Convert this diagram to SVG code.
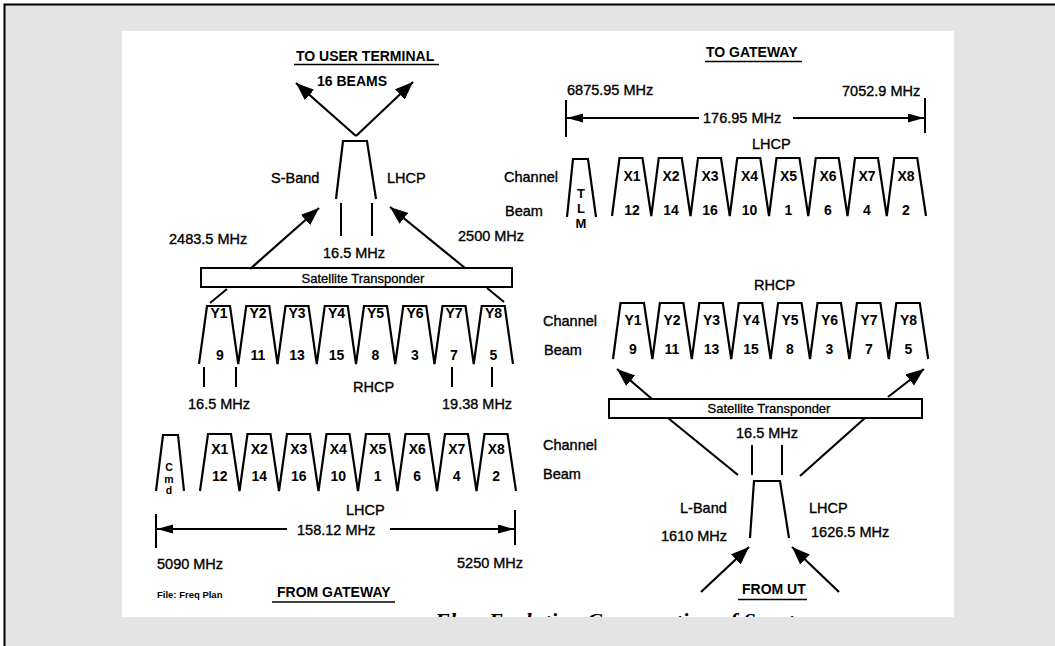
<svg xmlns="http://www.w3.org/2000/svg" width="1055" height="646" viewBox="0 0 1055 646">
<defs>
<style>
.ln{stroke:#000;stroke-width:2.2;fill:none;stroke-linejoin:miter}
.tk{stroke:#000;stroke-width:2;fill:none}
.t{font-family:"Liberation Sans",Arial,Helvetica,sans-serif;font-size:14.5px;fill:#000;stroke:#000;stroke-width:0.35}
.c{font-family:"Liberation Sans",Arial,Helvetica,sans-serif;font-size:14px;font-weight:bold;text-anchor:middle;fill:#000}
.h{font-family:"Liberation Sans",Arial,Helvetica,sans-serif;font-size:14px;font-weight:bold;fill:#000}
.box{fill:#fff;stroke:#000;stroke-width:2}
.tb{font-family:"Liberation Sans",Arial,Helvetica,sans-serif;font-size:13px;text-anchor:middle;fill:#000;stroke:#000;stroke-width:0.3}
.ul{stroke:#000;stroke-width:1.6}
</style>
<marker id="ah" markerUnits="userSpaceOnUse" markerWidth="20" markerHeight="16" refX="18" refY="7" orient="auto"><path d="M0,0 L18,7 L0,14 z" fill="#000"/></marker>
<marker id="dh" markerUnits="userSpaceOnUse" markerWidth="18" markerHeight="10" refX="16" refY="4.5" orient="auto"><path d="M0,0 L16,4.5 L0,9 z" fill="#000"/></marker>
<clipPath id="paper"><rect x="122" y="31" width="832" height="586"/></clipPath>
</defs>

<g id="background">
<rect x="0" y="0" width="1055" height="646" fill="#fff"/>
<rect x="5" y="5" width="1050" height="641" fill="#e4e4e4"/>
<path d="M4.5,646 V4.5 H1055" stroke="#000" stroke-width="2" fill="none"/>
<rect x="122" y="31" width="832" height="586" fill="#fff"/>
</g>

<g id="to-user-terminal">
<text class="h" x="296" y="61">TO USER TERMINAL</text>
<line class="ul" x1="294" y1="64.5" x2="439" y2="64.5"/>
<text class="h" x="317" y="86">16 BEAMS</text>
<path class="ln" d="M336,199 L343,141 L367,141 L376,199"/>
<text class="t" x="271" y="183">S-Band</text>
<text class="t" x="387" y="183">LHCP</text>
<text class="t" x="323" y="258">16.5 MHz</text>
<text class="t" x="169" y="244">2483.5 MHz</text>
<text class="t" x="458" y="241">2500 MHz</text>
</g>

<g id="transponder-left">
<rect class="box" x="201" y="268" width="311" height="19"/>
<text class="tb" x="363" y="283">Satellite Transponder</text>
</g>

<g id="y-channels-left">
<path class="ln" d="M199,364 L207,306 L230,306 L238.25,364 L246.25,306 L269.25,306 L277.5,364 L285.5,306 L308.5,306 L316.75,364 L324.75,306 L347.75,306 L356,364 L364,306 L387,306 L395.25,364 L403.25,306 L426.25,306 L434.5,364 L442.5,306 L465.5,306 L473.75,364 L481.75,306 L504.75,306 L513,364"/>
<text class="c" y="318"><tspan x="219">Y1</tspan><tspan x="258">Y2</tspan><tspan x="297">Y3</tspan><tspan x="336.5">Y4</tspan><tspan x="375.5">Y5</tspan><tspan x="415">Y6</tspan><tspan x="454">Y7</tspan><tspan x="493.5">Y8</tspan></text>
<text class="c" y="360"><tspan x="220">9</tspan><tspan x="258">11</tspan><tspan x="297">13</tspan><tspan x="336.5">15</tspan><tspan x="375.5">8</tspan><tspan x="415">3</tspan><tspan x="454">7</tspan><tspan x="493.5">5</tspan></text>
<text class="t" x="188" y="409">16.5 MHz</text>
<text class="t" x="353" y="392">RHCP</text>
<text class="t" x="442" y="409">19.38 MHz</text>
</g>

<g id="x-channels-from-gateway">
<path class="ln" d="M156,491 L163,435 L178,435 L184,491"/>
<text class="c" style="font-size:10.5px" x="169" y="471">C</text>
<text class="c" style="font-size:10.5px" x="169" y="482.5">m</text>
<text class="c" style="font-size:10.5px" x="169" y="494">d</text>
<path class="ln" d="M200,491 L208,434 L231,434 L239.5,491 L247.5,434 L270.5,434 L279,491 L287,434 L310,434 L318.5,491 L326.5,434 L349.5,434 L358,491 L366,434 L389,434 L397.5,491 L405.5,434 L428.5,434 L437,491 L445,434 L468,434 L476.5,491 L484.5,434 L507.5,434 L516,491"/>
<text class="c" y="454"><tspan x="219.75">X1</tspan><tspan x="259.25">X2</tspan><tspan x="298.75">X3</tspan><tspan x="338.25">X4</tspan><tspan x="377.75">X5</tspan><tspan x="417.25">X6</tspan><tspan x="456.75">X7</tspan><tspan x="496.25">X8</tspan></text>
<text class="c" y="481"><tspan x="219.75">12</tspan><tspan x="259.25">14</tspan><tspan x="298.75">16</tspan><tspan x="338.25">10</tspan><tspan x="377.75">1</tspan><tspan x="417.25">6</tspan><tspan x="456.75">4</tspan><tspan x="496.25">2</tspan></text>
<text class="t" x="543" y="450">Channel</text>
<text class="t" x="543" y="479">Beam</text>
<text class="t" x="346" y="515">LHCP</text>
<text class="t" x="297" y="535">158.12 MHz</text>
<text class="t" x="157" y="569">5090 MHz</text>
<text class="t" x="457" y="568">5250 MHz</text>
<text class="h" style="font-size:9.5px" x="157" y="598">File: Freq Plan</text>
<text class="h" x="277" y="597">FROM GATEWAY</text>
<line class="ul" x1="272" y1="602" x2="395" y2="602"/>
</g>

<g id="to-gateway">
<text class="h" x="706" y="57">TO GATEWAY</text>
<line class="ul" x1="705" y1="61.5" x2="802" y2="61.5"/>
<text class="t" x="567" y="95">6875.95 MHz</text>
<text class="t" x="842" y="96">7052.9 MHz</text>
<text class="t" x="703" y="123">176.95 MHz</text>
<text class="t" x="752" y="149">LHCP</text>
<text class="t" x="504" y="182">Channel</text>
<text class="t" x="505" y="216">Beam</text>
<path class="ln" d="M567,217 L573,159 L588,159 L596,217"/>
<text class="c" style="font-size:13px" x="581" y="198">T</text>
<text class="c" style="font-size:13px" x="581" y="213">L</text>
<text class="c" style="font-size:13px" x="581" y="228">M</text>
<path class="ln" d="M612,216 L619.5,158 L642.5,158 L651.25,216 L658.75,158 L681.75,158 L690.5,216 L698,158 L721,158 L729.75,216 L737.25,158 L760.25,158 L769,216 L776.5,158 L799.5,158 L808.25,216 L815.75,158 L838.75,158 L847.5,216 L855,158 L878,158 L886.75,216 L894.25,158 L917.25,158 L926,216"/>
<text class="c" y="181"><tspan x="632">X1</tspan><tspan x="671">X2</tspan><tspan x="710">X3</tspan><tspan x="749.5">X4</tspan><tspan x="788.5">X5</tspan><tspan x="828">X6</tspan><tspan x="867">X7</tspan><tspan x="906">X8</tspan></text>
<text class="c" y="215"><tspan x="632">12</tspan><tspan x="671">14</tspan><tspan x="710">16</tspan><tspan x="749.5">10</tspan><tspan x="788.5">1</tspan><tspan x="828">6</tspan><tspan x="867">4</tspan><tspan x="906">2</tspan></text>
</g>

<g id="y-channels-right">
<text class="t" x="754" y="290">RHCP</text>
<text class="t" x="543" y="326">Channel</text>
<text class="t" x="544" y="355">Beam</text>
<path class="ln" d="M613,359 L620.5,303 L644,303 L652.4,359 L659.9,303 L683.4,303 L691.8,359 L699.3,303 L722.8,303 L731.2,359 L738.7,303 L762.2,303 L770.6,359 L778.1,303 L801.6,303 L810,359 L817.5,303 L841,303 L849.4,359 L856.9,303 L880.4,303 L888.8,359 L896.3,303 L919.8,303 L928.2,359"/>
<text class="c" y="325"><tspan x="633">Y1</tspan><tspan x="672">Y2</tspan><tspan x="711.5">Y3</tspan><tspan x="751">Y4</tspan><tspan x="790">Y5</tspan><tspan x="829.5">Y6</tspan><tspan x="869">Y7</tspan><tspan x="908.5">Y8</tspan></text>
<text class="c" y="354"><tspan x="633">9</tspan><tspan x="672">11</tspan><tspan x="711.5">13</tspan><tspan x="751">15</tspan><tspan x="790">8</tspan><tspan x="829.5">3</tspan><tspan x="869">7</tspan><tspan x="908.5">5</tspan></text>
</g>

<g id="transponder-right">
<rect class="box" x="609" y="399" width="313" height="19"/>
<text class="tb" x="769" y="413">Satellite Transponder</text>
</g>

<g id="from-ut">
<text class="t" x="736" y="438">16.5 MHz</text>
<path class="ln" d="M750,538 L754,481 L780,481 L789,538"/>
<text class="t" x="680" y="513">L-Band</text>
<text class="t" x="809" y="513">LHCP</text>
<text class="t" x="661" y="541">1610 MHz</text>
<text class="t" x="811" y="537">1626.5 MHz</text>
<text class="h" x="742" y="594">FROM UT</text>
<line class="ul" x1="738" y1="599.5" x2="807" y2="599.5"/>
</g>

<g id="caption" clip-path="url(#paper)">
<text x="435" y="628" textLength="398" style="font-family:'Liberation Serif','Times New Roman',serif;font-style:italic;font-weight:bold;font-size:22px;fill:#000">Flow Evolution Conservation of Spectrum</text>
</g>

<g id="connectors">
<line class="ln" x1="356" y1="136" x2="296" y2="83" marker-end="url(#ah)"/>
<line class="ln" x1="356" y1="136" x2="413" y2="82" marker-end="url(#ah)"/>
<line class="ln" x1="250" y1="269" x2="319" y2="208" marker-end="url(#ah)"/>
<line class="ln" x1="465" y1="268" x2="390" y2="207" marker-end="url(#ah)"/>
<line class="tk" x1="341" y1="203" x2="341" y2="236"/>
<line class="tk" x1="372" y1="203" x2="372" y2="236"/>
<line class="tk" x1="227" y1="289" x2="210" y2="303"/>
<line class="tk" x1="487" y1="288" x2="504" y2="302"/>
<line class="tk" x1="204" y1="367" x2="204" y2="387"/>
<line class="tk" x1="236" y1="367" x2="236" y2="387"/>
<line class="tk" x1="452" y1="367" x2="452" y2="387"/>
<line class="tk" x1="492" y1="367" x2="492" y2="387"/>
<line class="tk" x1="156" y1="514" x2="156" y2="548"/>
<line class="tk" x1="515" y1="510" x2="515" y2="545"/>
<line class="ln" x1="287" y1="529" x2="157" y2="529" marker-end="url(#dh)"/>
<line class="ln" x1="390" y1="529" x2="514" y2="529" marker-end="url(#dh)"/>
<line class="tk" x1="566" y1="100" x2="566" y2="137"/>
<line class="tk" x1="925" y1="98" x2="925" y2="133"/>
<line class="ln" x1="699" y1="118" x2="567" y2="118" marker-end="url(#dh)"/>
<line class="ln" x1="793" y1="118" x2="924" y2="118" marker-end="url(#dh)"/>
<line class="ln" x1="652" y1="399" x2="617" y2="369" marker-end="url(#ah)"/>
<line class="ln" x1="888" y1="397" x2="924" y2="369" marker-end="url(#ah)"/>
<line class="ln" x1="668" y1="418" x2="738" y2="475"/>
<line class="ln" x1="865" y1="418" x2="800" y2="476"/>
<line class="tk" x1="752" y1="445" x2="752" y2="475"/>
<line class="tk" x1="782" y1="445" x2="782" y2="475"/>
<line class="ln" x1="701" y1="592" x2="749" y2="547" marker-end="url(#ah)"/>
<line class="ln" x1="839" y1="592" x2="792" y2="547" marker-end="url(#ah)"/>
</g>
</svg>
